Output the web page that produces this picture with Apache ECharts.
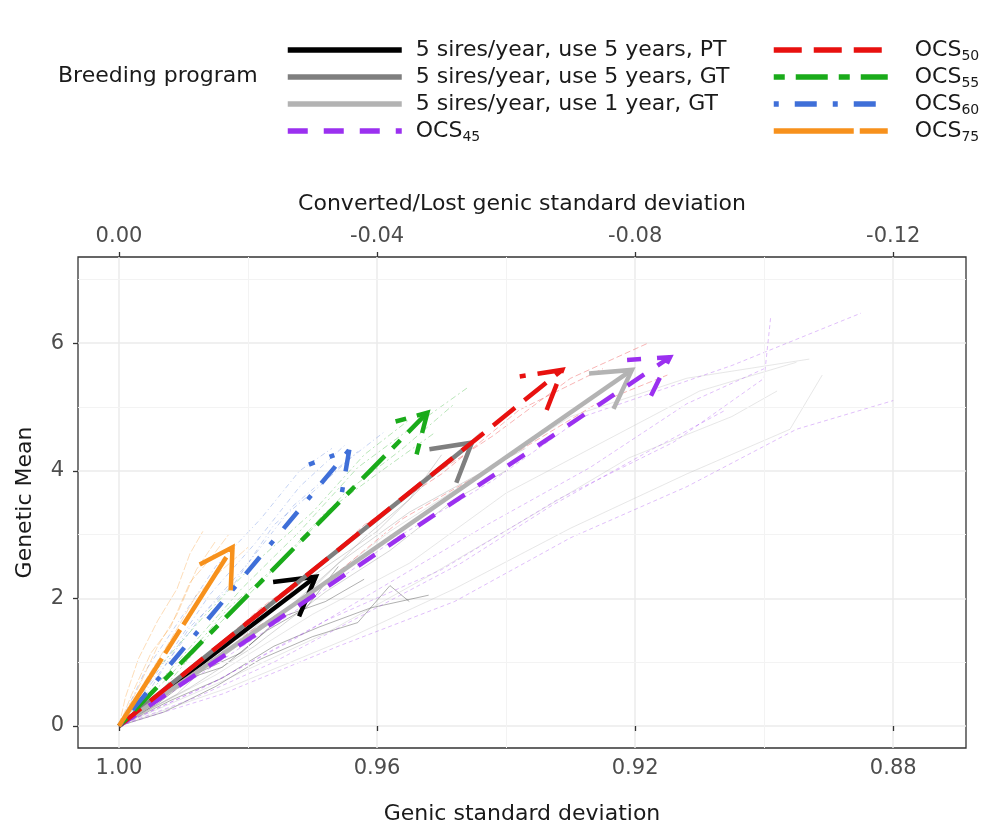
<!DOCTYPE html>
<html>
<head>
<meta charset="utf-8">
<script src="https://cdn.jsdelivr.net/npm/echarts@6/dist/echarts.min.js"></script>
<style>
  html, body { margin: 0; padding: 0; background: #fff; }
  #chart { width: 990px; height: 830px; }
</style>
</head>
<body>
<div id="chart"></div>
<script>
// breeding programs and where each arrow ends (genic sd, genetic mean)
var programs = ['5 sires/year, use 5 years, PT', '5 sires/year, use 5 years, GT', '5 sires/year, use 1 year, GT',
    'OCS45', 'OCS50', 'OCS55', 'OCS60', 'OCS75'];
var tipX = [0.9695, 0.9453, 0.9205, 0.9146, 0.9313, 0.9522, 0.9643, 0.9824];
var tipY = [2.34, 4.44, 5.58, 5.78, 5.58, 4.91, 4.33, 2.80];

var colors = ['#000000', '#7f7f7f', '#b3b3b3', '#9b30f0', '#e8110f', '#1aab1a', '#3f6fd8', '#f7911c'];
var dashes = [null, null, null, [20, 16], [28, 12], [11, 11, 32, 11], [5, 16, 22, 16], [80, 6, 28, 6]];
var thinDash = [null, null, null, [4, 3], [6, 3], [2, 3, 6, 3], [1, 3, 5, 3], [8, 2]];

// replicate trajectories (faint lines behind the arrows)
var replicates = [
    [[[1, 0], [0.994, 0.35], [0.988, 0.82], [0.981, 1.15], [0.975, 1.7], [0.968, 1.95], [0.962, 2.3]],
     [[1, 0], [0.995, 0.3], [0.99, 0.72], [0.984, 0.92], [0.977, 1.5], [0.971, 1.85], [0.966, 2.5]],
     [[1, 0], [0.993, 0.22], [0.985, 0.62], [0.978, 1.05], [0.97, 1.4], [0.963, 1.62], [0.958, 2.2], [0.955, 1.95]],
     [[1, 0], [0.992, 0.4], [0.984, 0.75], [0.976, 1.25], [0.969, 1.55], [0.961, 1.85], [0.952, 2.05]]],
    [[[1, 0], [0.99, 0.72], [0.98, 1.45], [0.97, 2.35], [0.96, 3.05], [0.952, 3.85], [0.944, 4.6]],
     [[1, 0], [0.988, 0.8], [0.976, 1.65], [0.966, 2.55], [0.955, 3.35], [0.946, 3.85], [0.937, 4.35]],
     [[1, 0], [0.991, 0.5], [0.982, 1.35], [0.972, 1.95], [0.962, 2.95], [0.955, 3.55], [0.95, 4.25]],
     [[1, 0], [0.989, 0.6], [0.979, 1.25], [0.968, 2.1], [0.958, 2.75], [0.948, 3.55], [0.94, 4.0]]],
    [[[1, 0], [0.985, 0.8], [0.97, 1.75], [0.955, 2.55], [0.94, 3.65], [0.925, 4.45], [0.91, 5.25], [0.895, 5.7]],
     [[1, 0], [0.983, 0.6], [0.965, 1.35], [0.948, 2.15], [0.93, 3.1], [0.912, 3.95], [0.896, 4.65], [0.891, 5.5]],
     [[1, 0], [0.987, 0.9], [0.972, 1.95], [0.958, 3.05], [0.944, 3.95], [0.93, 4.85], [0.912, 5.45], [0.893, 5.75]],
     [[1, 0], [0.984, 0.7], [0.968, 1.45], [0.952, 2.35], [0.936, 3.3], [0.921, 4.2], [0.905, 4.85], [0.898, 5.25]]],
    [[[1, 0], [0.985, 0.7], [0.968, 1.65], [0.95, 2.45], [0.932, 3.55], [0.914, 4.45], [0.9, 5.45], [0.899, 6.4]],
     [[1, 0], [0.986, 0.9], [0.972, 1.85], [0.957, 2.95], [0.942, 3.85], [0.928, 4.85], [0.905, 5.65], [0.885, 6.47]],
     [[1, 0], [0.984, 0.5], [0.966, 1.25], [0.948, 1.95], [0.93, 2.95], [0.912, 3.75], [0.895, 4.65], [0.88, 5.1]],
     [[1, 0], [0.987, 0.6], [0.973, 1.35], [0.958, 2.25], [0.943, 3.15], [0.927, 4.05], [0.912, 5.05], [0.9, 5.6]],
     [[1, 0], [0.988, 0.45], [0.976, 1.0], [0.962, 1.75], [0.947, 2.55], [0.933, 3.45], [0.918, 4.3], [0.906, 4.95]]],
    [[[1, 0], [0.99, 0.8], [0.978, 1.85], [0.966, 2.75], [0.954, 3.75], [0.942, 4.55], [0.93, 5.45], [0.918, 6.0]],
     [[1, 0], [0.988, 0.9], [0.975, 1.95], [0.962, 3.15], [0.95, 3.95], [0.938, 4.95], [0.925, 5.6]],
     [[1, 0], [0.991, 0.6], [0.98, 1.45], [0.968, 2.25], [0.956, 3.25], [0.944, 3.95], [0.932, 4.8]],
     [[1, 0], [0.989, 0.75], [0.977, 1.6], [0.964, 2.55], [0.951, 3.45], [0.939, 4.25], [0.926, 5.05], [0.915, 5.5]]],
    [[[1, 0], [0.992, 0.8], [0.983, 1.85], [0.974, 2.65], [0.965, 3.65], [0.956, 4.35], [0.948, 5.05]],
     [[1, 0], [0.993, 0.6], [0.985, 1.55], [0.977, 2.35], [0.968, 3.35], [0.96, 3.95], [0.951, 4.6]],
     [[1, 0], [0.991, 1.0], [0.981, 2.15], [0.972, 3.05], [0.963, 4.05], [0.955, 4.65], [0.946, 5.3]],
     [[1, 0], [0.994, 0.9], [0.987, 1.7], [0.979, 2.55], [0.97, 3.35], [0.962, 4.25], [0.955, 4.8]]],
    [[[1, 0], [0.994, 0.8], [0.987, 1.75], [0.98, 2.55], [0.973, 3.45], [0.966, 4.05], [0.959, 4.6]],
     [[1, 0], [0.995, 0.6], [0.989, 1.55], [0.982, 2.25], [0.976, 3.15], [0.969, 3.75], [0.963, 4.3]],
     [[1, 0], [0.993, 1.0], [0.986, 2.05], [0.979, 2.85], [0.972, 3.75], [0.965, 4.4]],
     [[1, 0], [0.996, 0.85], [0.991, 1.6], [0.985, 2.5], [0.978, 3.25], [0.972, 4.0], [0.967, 4.35]]],
    [[[1, 0], [0.997, 0.6], [0.994, 1.25], [0.991, 1.75], [0.988, 2.45], [0.985, 2.9]],
     [[1, 0], [0.998, 0.5], [0.995, 1.15], [0.992, 1.55], [0.989, 2.25], [0.986, 2.6], [0.983, 3.0]],
     [[1, 0], [0.996, 0.7], [0.992, 1.35], [0.988, 2.05], [0.984, 2.45], [0.98, 2.8]],
     [[1, 0], [0.999, 0.45], [0.997, 1.05], [0.994, 1.65], [0.991, 2.15], [0.989, 2.7], [0.987, 3.05]]]
];

var bottomTicks = [1.00, 0.96, 0.92, 0.88];
var minorX = [0.98, 0.94, 0.90];
var yTicks = [0, 2, 4, 6];
var minorY = [1, 3, 5, 7];

var chart = echarts.init(document.getElementById('chart'), null, {renderer: 'canvas'});

var fontFam = 'DejaVu Sans';
var series = [];

// background replicate lines
replicates.forEach(function (group, i) {
    group.forEach(function (traj) {
        series.push({
            type: 'line',
            name: 'rep',
            data: traj,
            symbol: 'none',
            silent: true,
            z: 2,
            lineStyle: {color: colors[i], width: 0.9, opacity: 0.35, type: thinDash[i] || 'solid'}
        });
    });
});

// empty line series, only for the legend keys
programs.forEach(function (p, i) {
    series.push({
        type: 'line',
        name: p,
        data: [],
        symbol: 'none',
        lineStyle: {color: colors[i], width: 5.5, type: dashes[i] || 'solid', cap: 'butt'},
        itemStyle: {color: colors[i]}
    });
});

// minor grid lines
series.push({
    type: 'line',
    name: 'minor',
    data: [],
    z: 1,
    markLine: {
        silent: true,
        symbol: ['none', 'none'],
        label: {show: false},
        lineStyle: {color: '#f3f3f3', width: 1, type: 'solid'},
        data: minorX.map(function (v) { return {xAxis: v}; })
            .concat(minorY.map(function (v) { return {yAxis: v}; }))
    }
});

// arrows: shaft + open head
series.push({
    type: 'custom',
    name: 'arrows',
    z: 5,
    clip: true,
    encode: {x: [0, 2], y: [1, 3]},
    data: programs.map(function (p, i) { return [1, 0, tipX[i], tipY[i], i]; }),
    renderItem: function (params, api) {
        var i = api.value(4);
        var p0 = api.coord([api.value(0), api.value(1)]);
        var p1 = api.coord([api.value(2), api.value(3)]);
        var ang = Math.atan2(p1[1] - p0[1], p1[0] - p0[0]);
        var L = 43, a = Math.PI / 6;
        var h1 = [p1[0] - L * Math.cos(ang - a), p1[1] - L * Math.sin(ang - a)];
        var h2 = [p1[0] - L * Math.cos(ang + a), p1[1] - L * Math.sin(ang + a)];
        var st = {stroke: colors[i], lineWidth: 4.5, lineDash: dashes[i], lineCap: 'butt', lineJoin: 'miter', fill: null};
        return {
            type: 'group',
            children: [
                {type: 'polyline', shape: {points: [p0, p1]}, style: st},
                {type: 'polyline', shape: {points: [h1, p1, h2]}, style: st}
            ]
        };
    }
});

var legendFmt = function (name) {
    if (name.indexOf('OCS') === 0) return 'OCS{sub|' + name.slice(3) + '}';
    return name;
};
var legendBase = {
    orient: 'vertical',
    top: 37,
    padding: 0,
    itemWidth: 114,
    itemHeight: 14,
    itemGap: 1,
    selectedMode: false,
    formatter: legendFmt,
    itemStyle: {opacity: 0},
    lineStyle: {width: 5.5, cap: 'butt'},
    textStyle: {
        fontFamily: fontFam, fontSize: 22, color: '#1a1a1a', lineHeight: 26,
        rich: {sub: {fontFamily: fontFam, fontSize: 14, color: '#1a1a1a', lineHeight: 14, verticalAlign: 'bottom'}}
    }
};

var option = {
    animation: false,
    backgroundColor: '#fff',
    textStyle: {fontFamily: fontFam},
    title: {
        text: 'Breeding program',
        left: 58, top: 65, padding: 0,
        textStyle: {fontFamily: fontFam, fontSize: 22, fontWeight: 'normal', color: '#1a1a1a'}
    },
    legend: [
        echarts.util.merge({left: 285, data: programs.slice(0, 4),
            textStyle: {padding: [0, 0, 0, 9]}}, legendBase),
        echarts.util.merge({left: 771, data: programs.slice(4),
            textStyle: {padding: [0, 0, 0, 22]}}, legendBase)
    ],
    grid: {
        left: 78, right: 24, top: 257, bottom: 82,
        show: true, borderColor: '#333', borderWidth: 1.3, backgroundColor: 'transparent',
        containLabel: false, outerBoundsMode: 'none'
    },
    xAxis: [{
        type: 'value', position: 'bottom', inverse: true,
        min: 0.86872, max: 1.00635,
        name: 'Genic standard deviation', nameLocation: 'middle', nameGap: 55,
        nameTextStyle: {fontFamily: fontFam, fontSize: 22, color: '#1a1a1a'},
        axisLine: {show: false},
        axisTick: {show: true, length: 5, customValues: bottomTicks, lineStyle: {color: '#333', width: 1.3}},
        axisLabel: {customValues: bottomTicks, margin: 10, fontSize: 21, color: '#4d4d4d',
            formatter: function (v) { return v.toFixed(2); }},
        splitLine: {show: true, lineStyle: {color: '#ebebeb', width: 1.5}}
    }, {
        type: 'value', position: 'top', inverse: true,
        min: 0.86872, max: 1.00635,
        name: 'Converted/Lost genic standard deviation', nameLocation: 'middle', nameGap: 42,
        nameTextStyle: {fontFamily: fontFam, fontSize: 22, color: '#1a1a1a'},
        axisLine: {show: false},
        axisTick: {show: true, length: 5, customValues: bottomTicks, lineStyle: {color: '#333', width: 1.3}},
        axisLabel: {customValues: bottomTicks, margin: 10, fontSize: 21, color: '#4d4d4d',
            formatter: function (v) { return (v - 1).toFixed(2).replace('-0.00', '0.00'); }},
        splitLine: {show: false}
    }],
    yAxis: {
        type: 'value', min: -0.345, max: 7.35,
        name: 'Genetic Mean', nameLocation: 'middle', nameGap: 42,
        nameTextStyle: {fontFamily: fontFam, fontSize: 22, color: '#1a1a1a'},
        axisLine: {show: false},
        axisTick: {show: true, length: 5, customValues: yTicks, lineStyle: {color: '#333', width: 1.3}},
        axisLabel: {customValues: yTicks, margin: 14, fontSize: 21, color: '#4d4d4d'},
        splitLine: {show: true, lineStyle: {color: '#ebebeb', width: 1.5}}
    },
    series: series
};

chart.setOption(option);
</script>
</body>
</html>
